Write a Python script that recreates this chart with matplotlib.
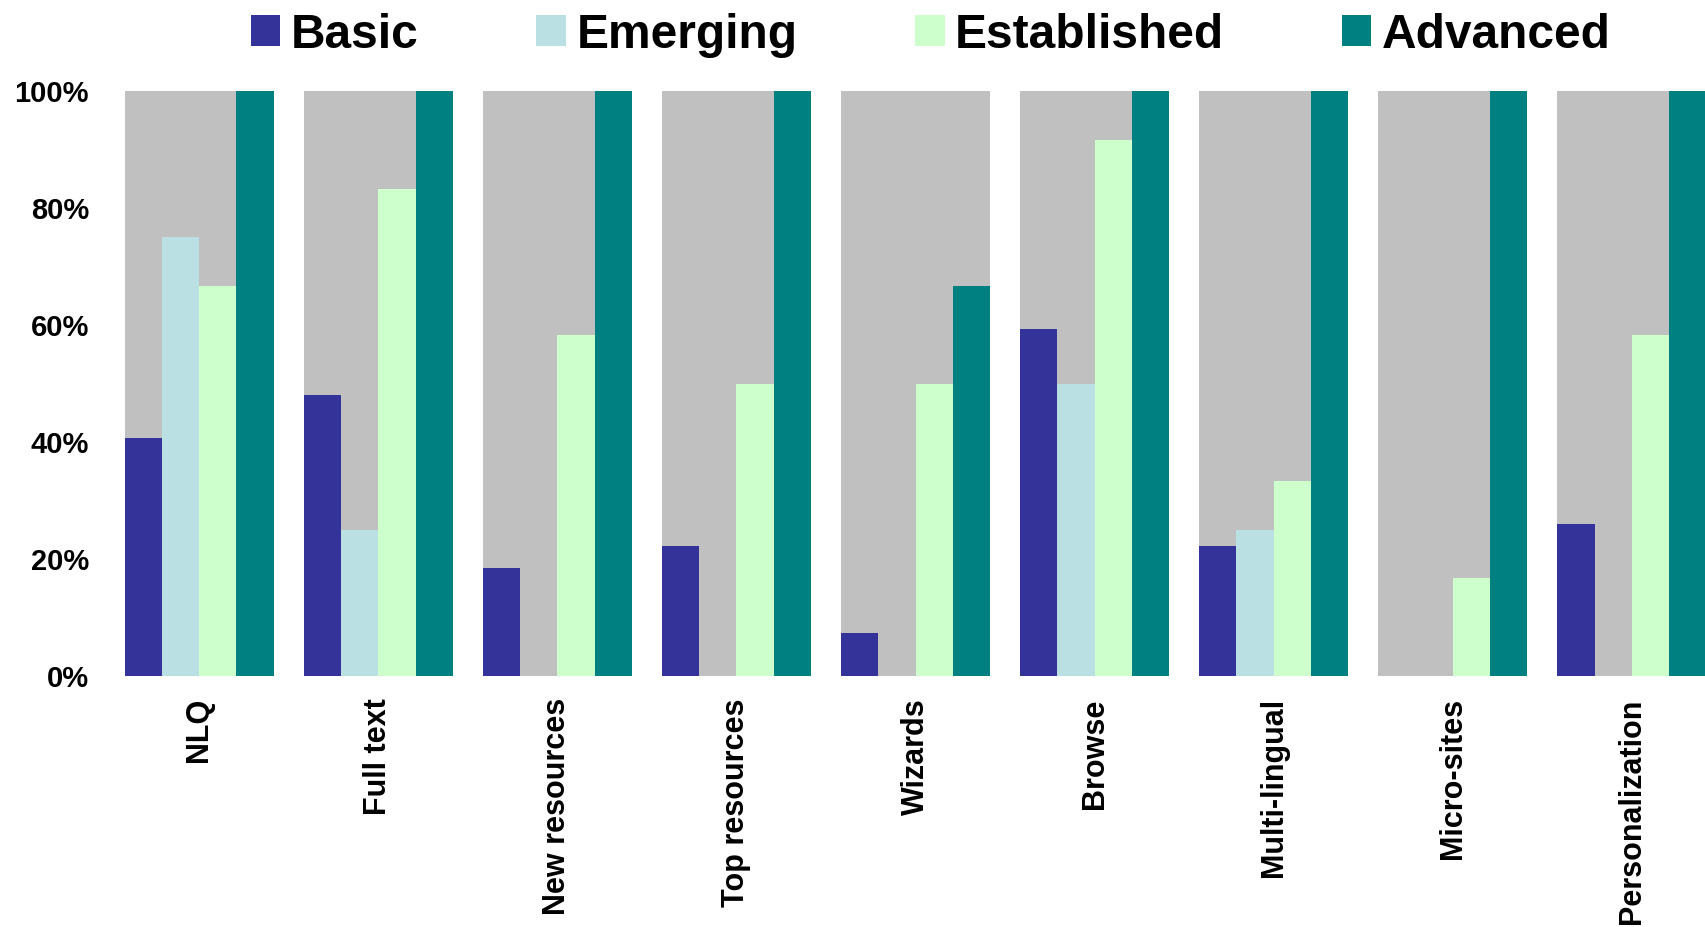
import numpy as np
import matplotlib
matplotlib.use("Agg")
import matplotlib.pyplot as plt
from matplotlib.patches import Patch

plt.rcParams['font.family'] = ['Liberation Sans', 'DejaVu Sans']
plt.rcParams['font.weight'] = 'bold'

categories = ["NLQ", "Full text", "New resources", "Top resources", "Wizards",
              "Browse", "Multi-lingual", "Micro-sites", "Personalization"]
levels = ["Basic", "Emerging", "Established", "Advanced"]

# share of sites per maturity level offering each feature
basic = [0.407, 0.481, 0.185, 0.222, 0.074, 0.593, 0.222, 0.0, 0.259]
emerging = [0.75, 0.25, 0.0, 0.0, 0.0, 0.5, 0.25, 0.0, 0.0]
established = [0.667, 0.833, 0.583, 0.5, 0.5, 0.917, 0.333, 0.167, 0.583]
advanced = [1.0, 1.0, 1.0, 1.0, 0.667, 1.0, 1.0, 1.0, 1.0]

colors = ["#333399", "#BAE0E3", "#CCFFCC", "#008080"]
bg_color = "#C0C0C0"

fig = plt.figure(figsize=(17.06, 9.27), dpi=100)
ax = fig.add_axes([125/1706, 1 - 676/927, 1 - 125/1706, (676 - 91)/927])

x = np.arange(len(categories))
group_w = 0.83
bar_w = group_w / 4

# grey panel behind every group
ax.bar(x, [1.0] * len(x), width=group_w, color=bg_color, zorder=0)

series = [basic, emerging, established, advanced]
for i, vals in enumerate(series):
    pos = x - group_w / 2 + bar_w * (i + 0.5)
    ax.bar(pos, vals, width=bar_w, color=colors[i], zorder=1)

ax.set_xlim(-group_w / 2, len(x) - 1 + group_w / 2)
ax.set_ylim(0, 1)
ax.set_yticks(np.arange(0, 1.01, 0.2))
ax.set_yticklabels([f"{int(round(v*100))}%" for v in np.arange(0, 1.01, 0.2)],
                   fontsize=21, fontweight='bold')
ax.set_xticks(x)
ax.set_xticklabels(categories, rotation=90, fontsize=22, fontweight='bold',
                   va='top', ha='center')
ax.tick_params(axis='y', length=0, pad=26)
ax.tick_params(axis='x', length=0, pad=16)
for s in ax.spines.values():
    s.set_visible(False)

handles = [Patch(facecolor=c, edgecolor='none') for c in colors]
fig.legend(handles, levels, loc='upper left', bbox_to_anchor=(246/1706, 1 - 8/927),
           ncol=4, frameon=False, prop={'size': 34.5, 'weight': 'bold'},
           handlelength=0.62, handleheight=0.62, handletextpad=0.22,
           columnspacing=2.45, borderpad=0.1, borderaxespad=0)

fig.savefig("out.png", dpi=100)
